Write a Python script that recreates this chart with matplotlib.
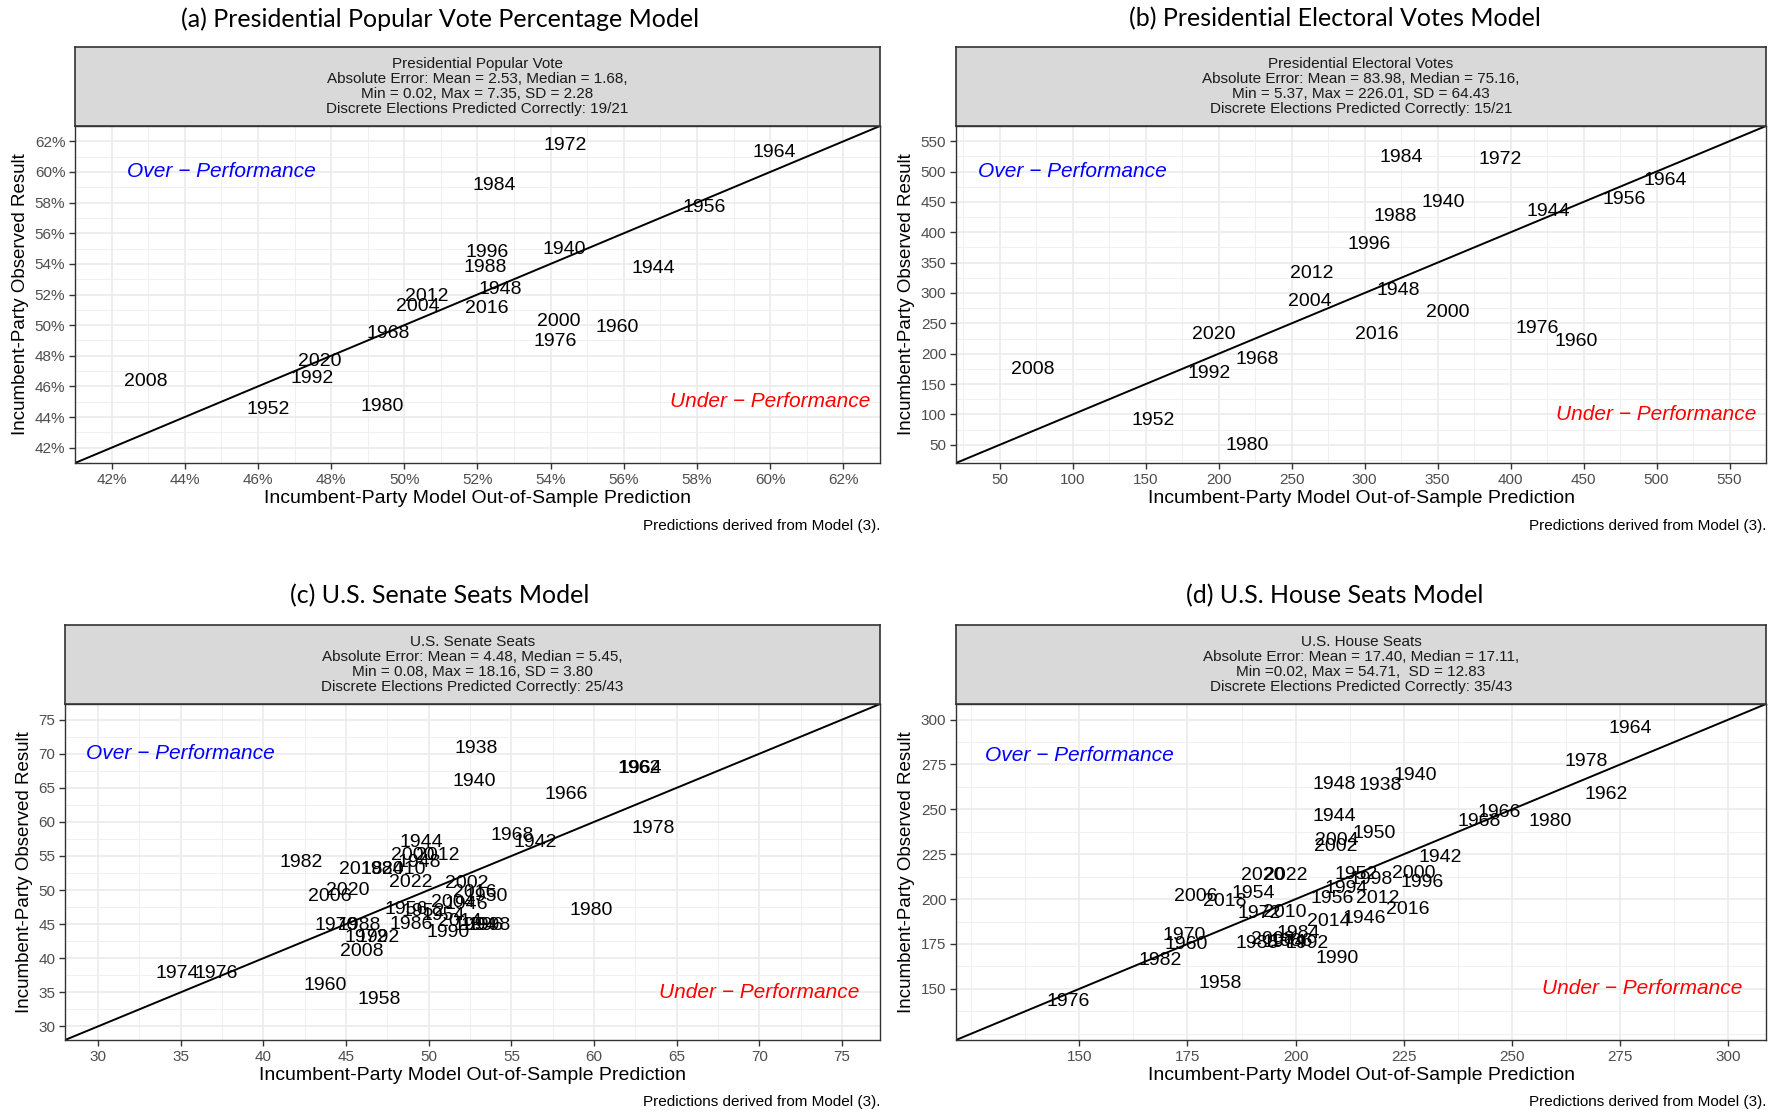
import numpy as np
import matplotlib.pyplot as plt
from matplotlib.ticker import FixedLocator, MultipleLocator, FuncFormatter

plt.rcParams['font.family'] = ['Liberation Sans', 'DejaVu Sans']

# (a) presidential popular vote (%)
pv_years = ['1972', '1964', '1984', '1956', '1996', '1988', '1940', '1944', '1948', '2012', '2004',
            '2016', '2000', '1960', '1976', '1968', '2020', '1992', '2008', '1952', '1980']
pv_pred = [54.41, 60.11, 52.46, 58.19, 52.25, 52.22, 54.38, 56.80, 52.62, 50.61, 50.36,
           52.25, 54.23, 55.81, 54.11, 49.55, 47.70, 47.48, 42.93, 46.27, 49.40]
pv_obs = [61.70, 61.26, 59.11, 57.70, 54.74, 53.78, 54.96, 53.70, 52.30, 51.85, 51.19,
          51.11, 50.22, 49.85, 48.96, 49.48, 47.63, 46.52, 46.30, 44.52, 44.67]

# (b) presidential electoral votes
ev_years = ['1984', '1972', '1964', '1956', '1940', '1944', '1988', '1996', '2012', '1948', '2004',
            '2000', '2016', '2020', '1976', '1960', '1968', '1992', '2008', '1952', '1980']
ev_pred = [324.8, 393.2, 505.7, 477.8, 353.6, 425.8, 321.0, 303.0, 263.5, 323.3, 262.7,
           356.7, 308.5, 196.7, 418.0, 445.2, 226.2, 193.6, 72.5, 154.8, 219.3]
ev_obs = [523.8, 520.0, 484.5, 454.5, 448.9, 433.9, 426.4, 379.6, 332.8, 304.7, 286.0,
          267.2, 231.6, 231.6, 241.0, 220.4, 190.4, 168.0, 173.6, 89.3, 48.1]

# (c) senate seats
sen_years = ['1938', '1940', '1962', '1964', '1966', '1978', '1968', '1942', '1944', '1982', '2000',
             '2012', '1948', '2018', '1984', '2010', '2022', '2002', '2020', '2006', '2016', '1950',
             '2004', '1946', '1956', '1952', '1954', '1970', '1988', '1986', '2014', '1994', '1996',
             '1998', '1990', '1972', '1992', '2008', '1980', '1974', '1976', '1960', '1958']
sen_pred = [52.87, 52.73, 62.76, 62.78, 58.30, 63.59, 55.07, 56.44, 49.57, 42.29, 49.02,
            50.54, 49.44, 45.87, 47.17, 48.48, 48.89, 52.32, 45.11, 44.01, 52.80, 53.49,
            51.43, 52.25, 48.61, 49.64, 50.88, 44.42, 45.80, 48.96, 51.91, 52.80, 53.21,
            53.63, 51.15, 46.21, 46.96, 45.93, 59.81, 34.81, 37.14, 43.74, 47.03]
sen_obs = [70.83, 66.00, 67.83, 67.83, 64.00, 59.00, 58.00, 57.00, 57.00, 54.00, 55.00,
           55.00, 54.00, 53.00, 53.00, 53.00, 51.17, 51.00, 50.00, 49.00, 49.67, 49.00,
           48.17, 47.83, 47.17, 46.83, 46.33, 44.83, 44.83, 45.00, 45.33, 44.83, 44.83,
           44.83, 43.83, 43.00, 43.00, 41.00, 47.00, 37.83, 37.83, 36.00, 34.00]

# (d) house seats
hou_years = ['1964', '1978', '1962', '1940', '1948', '1938', '1966', '1968', '1980', '1944', '1950',
             '2004', '2002', '1942', '2020', '2022', '1952', '1998', '2000', '1996', '1994', '1956',
             '2012', '2016', '2006', '2018', '1954', '1972', '2010', '2014', '1946', '1984', '1970',
             '1960', '1982', '1958', '1976', '1990', '1988', '2008', '1974', '1986', '1992']
hou_pred = [277.4, 267.1, 271.8, 227.6, 208.9, 219.5, 247.1, 242.4, 258.9, 208.9, 218.2,
            209.5, 209.2, 233.4, 192.4, 197.6, 213.9, 217.4, 227.4, 229.2, 211.6, 208.4,
            218.9, 225.8, 176.8, 183.7, 190.3, 191.6, 197.4, 207.6, 215.8, 200.5, 174.2,
            174.7, 168.7, 182.6, 147.4, 209.5, 191.1, 194.7, 197.4, 198.9, 202.6]
hou_obs = [294.9, 276.7, 258.4, 269.1, 264.1, 263.4, 248.3, 243.3, 243.3, 245.8, 236.3,
           232.5, 229.4, 223.1, 213.0, 213.0, 213.6, 211.1, 214.3, 209.2, 206.1, 200.4,
           200.4, 194.1, 201.7, 198.5, 202.9, 192.2, 192.8, 187.8, 189.1, 180.9, 179.6,
           174.6, 165.8, 153.2, 143.1, 167.0, 175.2, 177.7, 175.8, 176.5, 175.2]

W, H = 1781, 1114
fig = plt.figure(figsize=(W / 100, H / 100), dpi=100)


def box(x0, x1, y0, y1):
    return [x0 / W, 1 - y1 / H, (x1 - x0) / W, (y1 - y0) / H]


def panel(rect, strip_rect, strip_text, title, title_xy, caption_y,
          years, pred, obs, lims, majors, minor, over_xy, under_xy, pct=False):
    ax = fig.add_axes(box(*rect))
    sax = fig.add_axes(box(*strip_rect))
    sax.set_facecolor('#D9D9D9')
    sax.set_xticks([])
    sax.set_yticks([])
    for s in sax.spines.values():
        s.set_color('#333333')
        s.set_linewidth(1.2)
    sax.text(0.5, 0.5, strip_text, ha='center', va='center', fontsize=11,
             linespacing=1.1, color='#1A1A1A', transform=sax.transAxes)

    ax.set_xlim(lims)
    ax.set_ylim(lims)
    for a in (ax.xaxis, ax.yaxis):
        a.set_major_locator(FixedLocator(majors))
        a.set_minor_locator(MultipleLocator(minor))
        if pct:
            a.set_major_formatter(FuncFormatter(lambda v, p: f'{v:.0f}%'))
    ax.grid(which='major', color='#EBEBEB', lw=1.2)
    ax.grid(which='minor', color='#F0F0F0', lw=0.7)
    ax.set_axisbelow(True)
    ax.tick_params(which='major', length=4, width=1, color='#333333',
                   labelsize=11, labelcolor='#4D4D4D', pad=3)
    ax.tick_params(which='minor', length=0)
    for s in ax.spines.values():
        s.set_color('#333333')
        s.set_linewidth(1.0)

    ax.plot(lims, lims, color='black', lw=1.4, zorder=2)
    for yr, xv, yv in zip(years, pred, obs):
        ax.text(xv, yv, yr, ha='center', va='center', fontsize=14, color='black', zorder=3)
    ax.text(over_xy[0], over_xy[1], 'Over \u2212 Performance', ha='center', va='center',
            fontsize=15, style='italic', color='#0000FF')
    ax.text(under_xy[0], under_xy[1], 'Under \u2212 Performance', ha='center', va='center',
            fontsize=15, style='italic', color='#FF0000')

    ax.set_xlabel('Incumbent-Party Model Out-of-Sample Prediction', fontsize=14, labelpad=2)
    ax.set_ylabel('Incumbent-Party Observed Result', fontsize=13.5, labelpad=4)

    fig.text(title_xy[0] / W, 1 - title_xy[1] / H, title, ha='center', va='center',
             fontsize=18, family=['Lato', 'DejaVu Sans'])
    fig.text(rect[1] / W, 1 - caption_y / H, 'Predictions derived from Model (3).',
             ha='right', va='center', fontsize=11)
    return ax


panel((75, 880, 126, 463), (75, 880, 47, 126),
      'Presidential Popular Vote\nAbsolute Error: Mean = 2.53, Median = 1.68,\n'
      'Min = 0.02, Max = 7.35, SD = 2.28\nDiscrete Elections Predicted Correctly: 19/21',
      '(a) Presidential Popular Vote Percentage Model', (440, 19), 526,
      pv_years, pv_pred, pv_obs, (41.0, 63.0), list(range(42, 63, 2)), 1,
      (45, 60), (60, 45), pct=True)

panel((956, 1766, 126, 463), (956, 1766, 47, 126),
      'Presidential Electoral Votes\nAbsolute Error: Mean = 83.98, Median = 75.16,\n'
      'Min = 5.37, Max = 226.01, SD = 64.43\nDiscrete Elections Predicted Correctly: 15/21',
      '(b) Presidential Electoral Votes Model', (1335, 19), 526,
      ev_years, ev_pred, ev_obs, (20, 575), list(range(50, 551, 50)), 25,
      (100, 500), (500, 100))

panel((65, 880, 704, 1040), (65, 880, 625, 704),
      'U.S. Senate Seats\nAbsolute Error: Mean = 4.48, Median = 5.45,\n'
      'Min = 0.08, Max = 18.16, SD = 3.80\nDiscrete Elections Predicted Correctly: 25/43',
      '(c) U.S. Senate Seats Model', (440, 596), 1102,
      sen_years, sen_pred, sen_obs, (28.0, 77.3), list(range(30, 76, 5)), 2.5,
      (35, 70), (70, 35))

panel((956, 1766, 704, 1040), (956, 1766, 625, 704),
      'U.S. House Seats\nAbsolute Error: Mean = 17.40, Median = 17.11,\n'
      'Min =0.02, Max = 54.71,  SD = 12.83\nDiscrete Elections Predicted Correctly: 35/43',
      '(d) U.S. House Seats Model', (1335, 596), 1102,
      hou_years, hou_pred, hou_obs, (121.5, 308.7), list(range(150, 301, 25)), 12.5,
      (150, 280), (280, 150))

fig.savefig('out.png', dpi=100, facecolor='white')
